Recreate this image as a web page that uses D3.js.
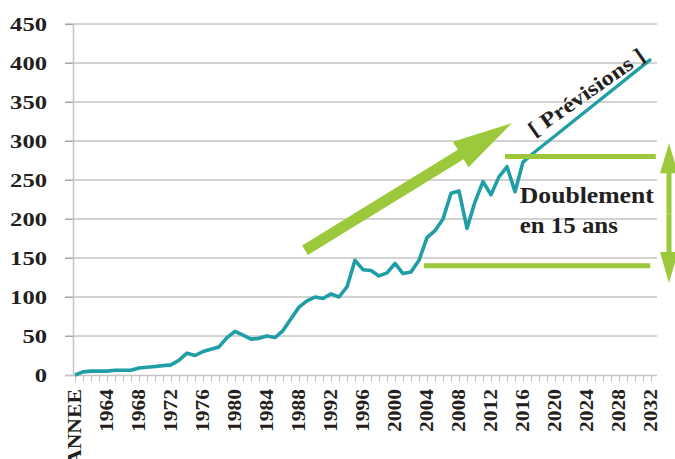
<!DOCTYPE html>
<html>
<head>
<meta charset="utf-8">
<script src="https://cdn.jsdelivr.net/npm/d3@7"></script>
<style>
  body { margin: 0; background: #fff; }
  svg text { font-family: "Liberation Serif", "Times New Roman", "DejaVu Serif", serif !important; font-weight: bold; fill: #231f20; }
</style>
</head>
<body>
<div id="chart"></div>
<script>
// categories (first one is the header row of the sheet)
const years = ["ANNEE",
  1961, 1962, 1963, 1964, 1965, 1966, 1967, 1968, 1969, 1970,
  1971, 1972, 1973, 1974, 1975, 1976, 1977, 1978, 1979, 1980,
  1981, 1982, 1983, 1984, 1985, 1986, 1987, 1988, 1989, 1990,
  1991, 1992, 1993, 1994, 1995, 1996, 1997, 1998, 1999, 2000,
  2001, 2002, 2003, 2004, 2005, 2006, 2007, 2008, 2009, 2010,
  2011, 2012, 2013, 2014, 2015, 2016, 2017, 2018, 2019, 2020,
  2021, 2022, 2023, 2024, 2025, 2026, 2027, 2028, 2029, 2030,
  2031, 2032];

// observed series, up to 2017
const values = [0,
  4, 5, 5, 5, 6, 6, 6, 9, 10, 11,
  12, 13, 19, 28, 25, 30, 33, 36, 48, 56,
  51, 46, 47, 50, 48, 57, 72, 87, 95, 100,
  98, 104, 100, 113, 147, 135, 134, 127, 131, 143,
  130, 132, 147, 176, 185, 200, 233, 236, 188, 222,
  248, 231, 254, 267, 235, 273, 282];

// forecast ("Prévisions")
const forecastYears = [2017, 2032];
const forecastValues = [282, 405];

const yTicks = [0, 50, 100, 150, 200, 250, 300, 350, 400, 450];

// annotation anchors in data units [year, value]
const bigArrow = [[1988.75, 160], [2014.6, 323]];
const topLevel = [[2013.75, 280], [2032.6, 280]];
const lowLevel = [[2003.6, 140], [2031.9, 140]];
const doubleArrow = [[2034.25, 297], [2034.25, 118]];

const width = 675, height = 459;
const teal = "#1f9ea6", green = "#9cc93b";
const serif = '"Liberation Serif", "Times New Roman", "DejaVu Serif", serif';

const x = d3.scalePoint().domain(years).range([75, 651]);
const xLin = d3.scaleLinear().domain([1960, 2032]).range([75, 651]);
const y = d3.scaleLinear().domain([0, 450]).range([375, 24]);

const svg = d3.select("#chart").append("svg")
  .attr("width", width)
  .attr("height", height)
  .attr("font-family", serif);

// gridlines
svg.append("g")
  .selectAll("line")
  .data(yTicks.slice(1))
  .enter().append("line")
  .attr("x1", 65).attr("x2", 657)
  .attr("y1", d => y(d)).attr("y2", d => y(d))
  .attr("stroke", "#a6a6a6").attr("stroke-width", 1);

// y axis
const yAxis = svg.append("g")
  .attr("transform", "translate(73,0)")
  .call(d3.axisLeft(y).tickValues(yTicks).tickSize(8).tickPadding(18));
yAxis.attr("font-family", serif);
yAxis.select(".domain").attr("stroke", "#c4c4c4").attr("stroke-width", 1.5);
yAxis.selectAll(".tick line").attr("stroke", "#a6a6a6");
yAxis.selectAll(".tick text")
  .attr("font-family", serif)
  .attr("font-size", 19)
  .attr("fill", "#231f20")
  .attr("textLength", d => String(d).length * 12.3)
  .attr("lengthAdjust", "spacingAndGlyphs");

// x axis
const xAxis = svg.append("g")
  .attr("transform", "translate(0," + y(0) + ")")
  .call(d3.axisBottom(x).tickSize(7).tickFormat(""));
xAxis.select(".domain").attr("stroke", "#c4c4c4").attr("stroke-width", 1.5)
  .attr("d", "M65,0.5H657");
xAxis.selectAll(".tick line").attr("stroke", "#c4c4c4");

svg.append("g")
  .selectAll("text")
  .data(years.filter((d, i) => i % 4 === 0))
  .enter().append("text")
  .attr("transform", d => "translate(" + x(d) + ",389) rotate(-90)")
  .attr("text-anchor", "end")
  .attr("dy", "0.35em")
  .attr("font-size", 18)
  .attr("textLength", d => d === "ANNEE" ? 76 : 43)
  .attr("lengthAdjust", "spacingAndGlyphs")
  .text(d => d);

// series
const line = d3.line().x(d => d[0]).y(d => d[1]);
svg.append("path")
  .attr("d", line(values.map((v, i) => [x(years[i]), y(v)])))
  .attr("fill", "none").attr("stroke", teal)
  .attr("stroke-width", 3.6).attr("stroke-linejoin", "round");
svg.append("path")
  .attr("d", line(forecastYears.map((yr, i) => [x(yr), y(forecastValues[i])])))
  .attr("fill", "none").attr("stroke", teal)
  .attr("stroke-width", 3.3);

// green level lines
[topLevel, lowLevel].forEach(seg => {
  svg.append("line")
    .attr("x1", xLin(seg[0][0])).attr("x2", xLin(seg[1][0]))
    .attr("y1", y(seg[0][1])).attr("y2", y(seg[1][1]))
    .attr("stroke", green).attr("stroke-width", 5);
});

// arrow outline: shaft from p0 to p1 with a triangular head at p1
function arrowPoly(p0, p1, shaft, headW, headL) {
  const dx = p1[0] - p0[0], dy = p1[1] - p0[1];
  const len = Math.sqrt(dx * dx + dy * dy);
  const ux = dx / len, uy = dy / len, nx = -uy, ny = ux;
  const bx = p1[0] - ux * headL, by = p1[1] - uy * headL;
  return [
    [p0[0] + nx * shaft / 2, p0[1] + ny * shaft / 2],
    [bx + nx * shaft / 2, by + ny * shaft / 2],
    [bx + nx * headW / 2, by + ny * headW / 2],
    p1,
    [bx - nx * headW / 2, by - ny * headW / 2],
    [bx - nx * shaft / 2, by - ny * shaft / 2],
    [p0[0] - nx * shaft / 2, p0[1] - ny * shaft / 2]
  ];
}
const ba = bigArrow.map(d => [xLin(d[0]), y(d[1])]);
svg.append("path")
  .attr("d", "M" + arrowPoly(ba[0], ba[1], 11, 30, 60).join("L") + "Z")
  .attr("fill", green);

// double arrow
const da = doubleArrow.map(d => [xLin(d[0]), y(d[1])]);
const mid = [(da[0][0] + da[1][0]) / 2, (da[0][1] + da[1][1]) / 2];
svg.append("path")
  .attr("d", "M" + arrowPoly(mid, da[0], 5, 18, 30).join("L") + "Z")
  .attr("fill", green);
svg.append("path")
  .attr("d", "M" + arrowPoly(mid, da[1], 5, 18, 31).join("L") + "Z")
  .attr("fill", green);

// texts
svg.append("text")
  .attr("x", xLin(2015.6)).attr("y", y(220.5))
  .attr("font-size", 24)
  .attr("textLength", 134).attr("lengthAdjust", "spacingAndGlyphs")
  .text("Doublement");
svg.append("text")
  .attr("x", xLin(2015.6)).attr("y", y(182))
  .attr("font-size", 24)
  .attr("textLength", 98).attr("lengthAdjust", "spacingAndGlyphs")
  .text("en 15 ans");

svg.append("text")
  .attr("transform", "translate(" + xLin(2023.9) + "," + y(362.8) + ") rotate(-35)")
  .attr("text-anchor", "middle")
  .attr("dy", "0.35em")
  .attr("font-size", 21)
  .attr("textLength", 137).attr("lengthAdjust", "spacingAndGlyphs")
  .text("[ Prévisions ]");
</script>
</body>
</html>
